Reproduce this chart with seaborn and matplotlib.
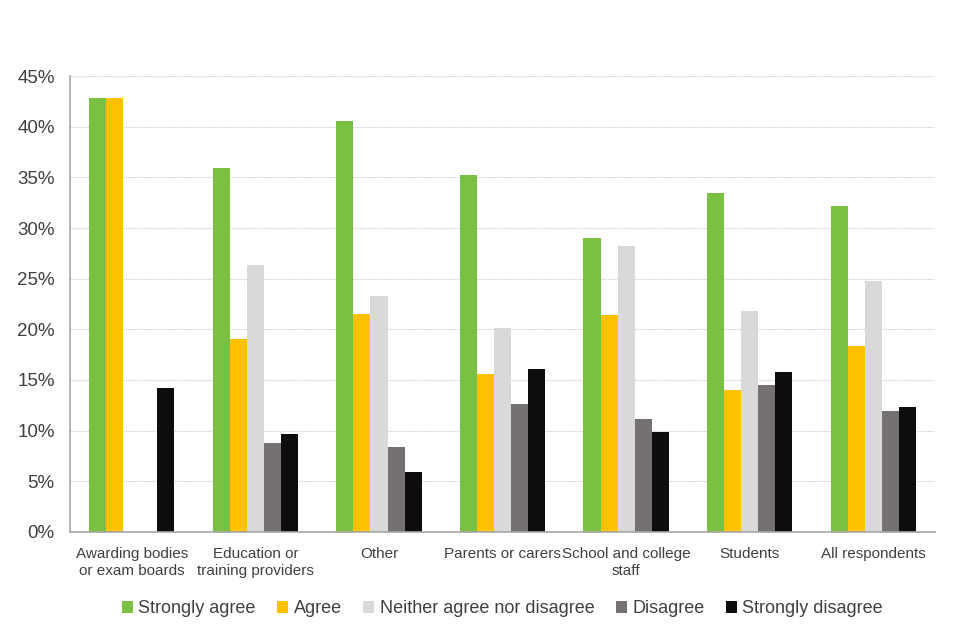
import pandas as pd
import numpy as np
import matplotlib
matplotlib.use("Agg")
import matplotlib.pyplot as plt
import seaborn as sns

# Data (percent of respondents)
groups = ['Awarding bodies\nor exam boards', 'Education or\ntraining providers', 'Other',
          'Parents or carers', 'School and college\nstaff', 'Students', 'All respondents']
responses = ['Strongly agree', 'Agree', 'Neither agree nor disagree', 'Disagree', 'Strongly disagree']
strongly_agree = [42.8, 35.9, 40.6, 35.2, 29.0, 33.5, 32.2]
agree = [42.8, 19.0, 21.5, 15.6, 21.4, 14.0, 18.4]
neither = [0.0, 26.4, 23.3, 20.1, 28.2, 21.8, 24.8]
disagree = [0.0, 8.8, 8.4, 12.6, 11.1, 14.5, 11.9]
strongly_disagree = [14.2, 9.7, 5.9, 16.1, 9.9, 15.8, 12.3]
colors = ['#7AC143', '#FFC000', '#D9D9D9', '#767171', '#0D0D0D']

values = [strongly_agree, agree, neither, disagree, strongly_disagree]
rows = []
for resp, vals in zip(responses, values):
    for g, v in zip(groups, vals):
        rows.append({'group': g, 'response': resp, 'pct': v})
df = pd.DataFrame(rows)

sns.set_style("white")
plt.rcParams['font.family'] = ['Liberation Sans', 'DejaVu Sans']

fig = plt.figure(figsize=(9.6, 6.4), dpi=100)
ax = fig.add_axes([0.073, 0.169, 0.901, 0.712])

sns.barplot(data=df, x='group', y='pct', hue='response', hue_order=responses,
            order=groups, palette=colors, width=0.69, saturation=1, ax=ax,
            edgecolor='none', linewidth=0)

ax.set_ylim(0, 45)
ax.set_xlim(-0.5, len(groups) - 0.5)
ax.set_yticks(range(0, 46, 5))
ax.set_yticklabels([f"{t}%" for t in range(0, 46, 5)], fontsize=13.5, color='#404040')
ax.yaxis.grid(True, linestyle=(0, (1, 1)), color='#C8C8C8', linewidth=0.8)
ax.set_axisbelow(True)

# category labels between boundary ticks, like the original
ax.set_xticks(range(len(groups)))
ax.set_xticklabels(groups, fontsize=11, color='#404040', linespacing=1.3)
ax.tick_params(axis='x', which='major', length=0, pad=11)
ax.set_xticks(np.arange(-0.5, len(groups), 1), minor=True)
ax.tick_params(axis='x', which='minor', length=5, color='#A6A6A6', width=1)
ax.tick_params(axis='y', length=5, color='#A6A6A6', width=1, pad=6)

ax.set_xlabel('')
ax.set_ylabel('')
for side in ['top', 'right']:
    ax.spines[side].set_visible(False)
for side in ['left', 'bottom']:
    ax.spines[side].set_color('#A6A6A6')
    ax.spines[side].set_linewidth(1.2)

ax.legend(loc='upper center', bbox_to_anchor=(0.5, -0.115), ncol=5, frameon=False,
          fontsize=13, handlelength=0.6, handleheight=0.6, handletextpad=0.3,
          columnspacing=1.2, labelcolor='#404040')

fig.savefig('out.png', dpi=100)
